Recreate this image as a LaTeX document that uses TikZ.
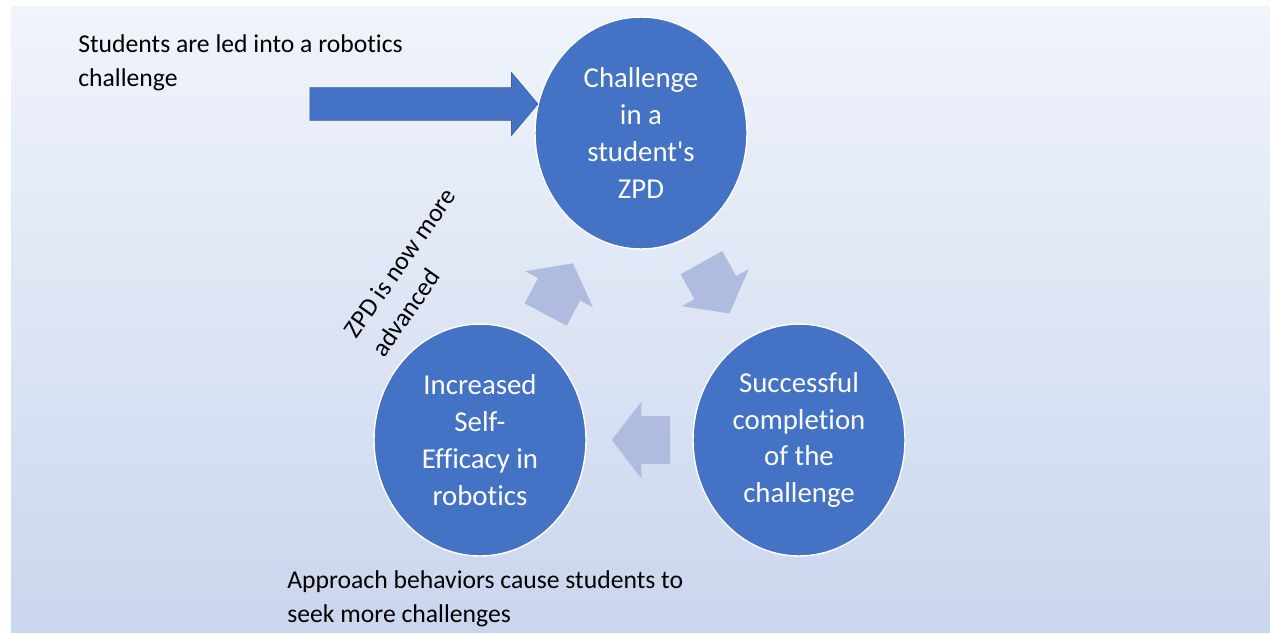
\documentclass[tikz,border=0pt]{standalone}
\usepackage{fontspec}
\setmainfont{Carlito}[Ligatures=CommonOff]
\usepackage{tikz}
\usetikzlibrary{shapes.geometric, shapes.arrows, calc}
\definecolor{zpdblue}{HTML}{4472C4}
\definecolor{zpdedge}{HTML}{3A62AA}
\definecolor{cyclefill}{HTML}{AFBCE0}
\definecolor{bgtop}{HTML}{F0F4FB}
\definecolor{bgbottom}{HTML}{CAD6EE}
\tikzstyle{bubble} = [ellipse, minimum width=4.24cm, minimum height=4.64cm,
fill=zpdblue, draw=white, line width=0.8pt, text=white, align=center,
font=\fontsize{16.4}{21}\selectfont, inner sep=0pt]
\tikzstyle{cycle} = [single arrow, fill=cyclefill, minimum height=1.16cm,
inner xsep=0pt, inner ysep=0.47cm, single arrow head extend=0.29cm,
single arrow tip angle=105]
\tikzstyle{note} = [align=left, font=\fontsize{14.6}{19}\selectfont, inner sep=0pt]

\begin{document}
\begin{tikzpicture}[x=0.02cm, y=-0.02cm]

      \useasboundingbox (0,0) rectangle (1270,633);
      % slide background
      \shade[top color=bgtop, bottom color=bgbottom] (11,6) rectangle (1270,632);

      \node (ZPD) [bubble] at (641,133) {Challenge\\ in a\\ student\textquotesingle s\\ ZPD};
      \node (SE) [bubble] at (480,440) {Increased\\ Self-\\ Efficacy in\\ robotics};
      \node (SC) [bubble] at (799,440) {Successful\\ completion\\ of the\\ challenge};

      % cycle arrows between the bubbles
      \node (C1) [cycle, rotate=-61] at (711,280) {};
      \node (C2) [cycle, rotate=180] at (650,440) {};
      \node (C3) [cycle, rotate=62] at (555,297) {};

      \node (lead) [note, anchor=base west] at (78,86) {Students are led into a robotics\\ challenge};
      \node (into) [single arrow, fill=zpdblue, draw=zpdedge, line width=0.4pt,
        minimum height=4.56cm, inner xsep=0pt, inner ysep=0.32cm,
        single arrow head extend=0.3cm, single arrow tip angle=100] at (417,104) {};

      \node (adv) [note, anchor=base west, rotate=55] at (384,359) {ZPD is now more\\ advanced};

      \node (seek) [note, anchor=base west] at (287,622) {Approach behaviors cause students to\\ seek more challenges};

      % \draw[help lines] (0,0) grid[step=50] (1270,633);

\end{tikzpicture}
\end{document}
